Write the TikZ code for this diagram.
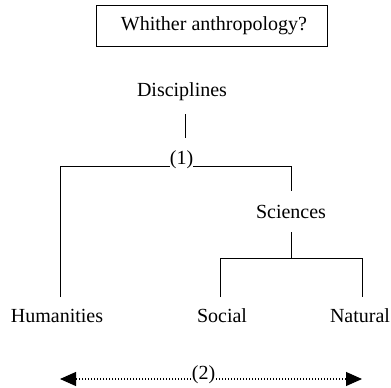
\documentclass[tikz,border=0pt]{standalone}
\usepackage{fontspec}
\setmainfont{Liberation Serif}
\usetikzlibrary{arrows.meta}
\begin{document}
\begin{tikzpicture}[x=1pt,y=-1pt,
  lbl/.style={anchor=base,inner sep=0pt,font=\fontsize{20}{24}\selectfont},
  conn/.style={line width=1pt},
  dots/.style={line width=1.1pt,dash pattern=on 1pt off 2pt},
  tip/.style={-{Triangle[length=16pt,width=14pt]}}]
\useasboundingbox (0,0) rectangle (391,388);
% title box
\node[draw,line width=1pt,minimum width=231pt,minimum height=41pt,inner sep=0pt] (box) at (211.5,25.5) {};
\node[lbl] (title) at (214,30) {Whither anthropology?};
% labels
\node[lbl] (disc) at (182,96.5) {Disciplines};
\node[lbl] (one) at (181.5,164) {(1)};
\node[lbl] (sci) at (291,218) {Sciences};
\node[lbl] (hum) at (57,322) {Humanities};
\node[lbl] (soc) at (222,322) {Social};
\node[lbl] (nat) at (360,322) {Natural};
\node[lbl] (two) at (203.5,379) {(2)};
% coordinates
\coordinate (d1) at (185,114);
\coordinate (d2) at (185,138);
\coordinate (hL) at (60,166);
\coordinate (hR) at (291,166);
\coordinate (oL) at (170,166);
\coordinate (oR) at (193,166);
\coordinate (hRb) at (291,191);
\coordinate (hLb) at (60,297);
\coordinate (s1) at (291,232);
\coordinate (s2) at (291,258);
\coordinate (sL) at (220,258);
\coordinate (sR) at (362,258);
\coordinate (sLb) at (220,297);
\coordinate (sRb) at (362,297);
\coordinate (aL) at (60,379);
\coordinate (aR) at (362,379);
\coordinate (tL) at (191,379);
\coordinate (tR) at (216,379);
% connectors
\draw[conn] (d1) -- (d2);
\draw[conn] (hLb) -- (hL) -- (oL);
\draw[conn] (oR) -- (hR) -- (hRb);
\draw[conn] (s1) -- (s2);
\draw[conn] (sLb) -- (sL) -- (sR) -- (sRb);
\draw[dots,tip] (tL) -- (aL);
\draw[dots,tip] (tR) -- (aR);
\end{tikzpicture}
\end{document}
